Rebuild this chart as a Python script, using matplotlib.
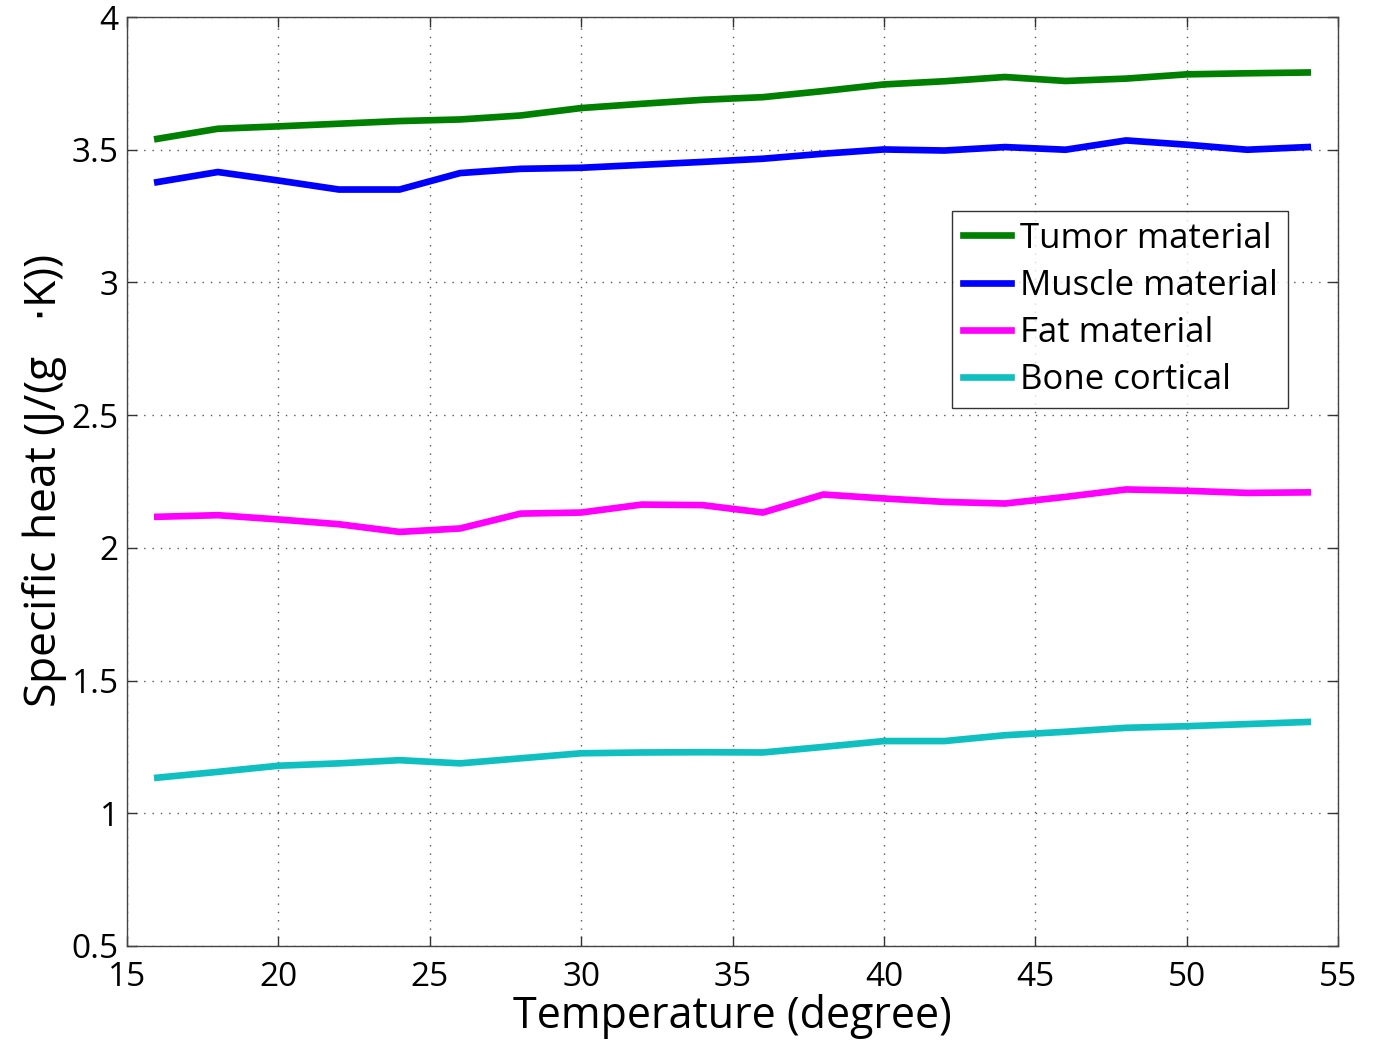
import numpy as np
import matplotlib
matplotlib.use('Agg')
import matplotlib.pyplot as plt

# Données
temperature = [16, 18, 20, 22, 24, 26, 28, 30, 32, 34,
               36, 38, 40, 42, 44, 46, 48, 50, 52, 54]
tumor = [3.541, 3.579, 3.588, 3.598, 3.608, 3.614, 3.629, 3.657, 3.673, 3.688,
         3.698, 3.721, 3.746, 3.758, 3.774, 3.759, 3.768, 3.784, 3.788, 3.791]
muscle = [3.378, 3.416, 3.384, 3.350, 3.350, 3.412, 3.428, 3.432, 3.443, 3.454,
          3.466, 3.485, 3.501, 3.497, 3.510, 3.500, 3.535, 3.519, 3.500, 3.510]
fat = [2.117, 2.123, 2.107, 2.089, 2.060, 2.073, 2.129, 2.133, 2.163, 2.161,
       2.133, 2.201, 2.186, 2.173, 2.167, 2.192, 2.220, 2.215, 2.207, 2.209]
bone = [1.134, 1.156, 1.179, 1.188, 1.200, 1.188, 1.207, 1.226, 1.229, 1.230,
        1.229, 1.250, 1.272, 1.272, 1.294, 1.307, 1.322, 1.328, 1.336, 1.344]

labels = ['Tumor material', 'Muscle material', 'Fat material', 'Bone cortical']
colors = ['#008000', '#0000ff', '#ff00ff', '#10bfbf']
xticks = [15, 20, 25, 30, 35, 40, 45, 50, 55]
yticks = [0.5, 1, 1.5, 2, 2.5, 3, 3.5, 4]

plt.rcParams['font.family'] = ['Open Sans', 'DejaVu Sans']

fig = plt.figure(figsize=(13.75, 10.44), dpi=100)
ax = fig.add_axes([0.0924, 0.0939, 0.8807, 0.8898])

for y, lab, c in zip([tumor, muscle, fat, bone], labels, colors):
    ax.plot(temperature, y, color=c, linewidth=4.8, label=lab)

ax.set_xlim(15, 55)
ax.set_ylim(0.5, 4)
ax.set_xticks(xticks)
ax.set_yticks(yticks)
ax.set_xticklabels([str(v) for v in xticks])
ax.set_yticklabels(['0.5', '1', '1.5', '2', '2.5', '3', '3.5', '4'])
ax.tick_params(direction='in', length=7, width=1, top=True, right=True,
               labelsize=24, colors='#333333', labelcolor='black')
ax.tick_params(axis='x', pad=11)
ax.tick_params(axis='y', pad=6)
ax.grid(True, linestyle=(0, (1, 5)), color='#555555', linewidth=1)
for sp in ax.spines.values():
    sp.set_color('#444444')
    sp.set_linewidth(1)

ax.set_xlabel('Temperature (degree)', fontsize=31, labelpad=0)
ax.set_ylabel('Specific heat (J/(g   $\\cdot$K))', fontsize=32, labelpad=2)

leg = ax.legend(loc='upper right', bbox_to_anchor=(0.959, 0.791),
                fontsize=25, frameon=True, fancybox=False, handlelength=1.4,
                handletextpad=0.25, borderpad=0.3, labelspacing=0.38,
                borderaxespad=0)
leg.get_frame().set_edgecolor('black')
leg.get_frame().set_linewidth(1)

fig.savefig('out.png', dpi=100)
